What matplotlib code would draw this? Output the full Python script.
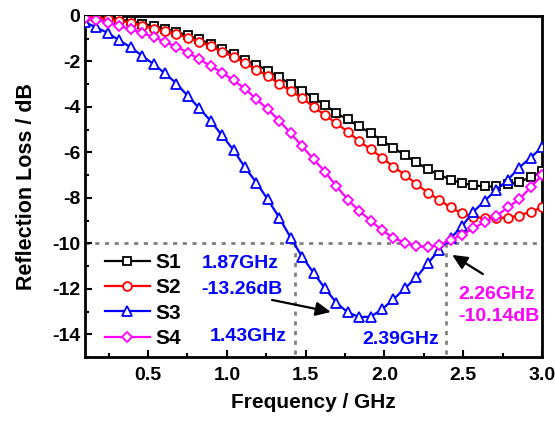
import numpy as np
import matplotlib
matplotlib.use("Agg")
import matplotlib.pyplot as plt
from matplotlib.ticker import MultipleLocator

plt.rcParams['font.family'] = ['Liberation Sans', 'DejaVu Sans']
plt.rcParams['font.weight'] = 'bold'
plt.rcParams['axes.unicode_minus'] = False

freq = np.linspace(0.1, 3.0, 41)
s1 = [-0.02, -0.05, -0.09, -0.15, -0.23, -0.33, -0.44, -0.56, -0.70, -0.85,
      -1.03, -1.22, -1.45, -1.68, -1.94, -2.14, -2.40, -2.70, -3.00, -3.28,
      -3.60, -3.90, -4.28, -4.55, -4.86, -5.15, -5.48, -5.80, -6.12, -6.43,
      -6.74, -6.98, -7.20, -7.35, -7.45, -7.50, -7.50, -7.40, -7.29, -7.10, -6.84]
s2 = [-0.03, -0.08, -0.14, -0.21, -0.30, -0.43, -0.56, -0.68, -0.81, -0.95,
      -1.13, -1.33, -1.57, -1.79, -2.06, -2.36, -2.64, -2.98, -3.30, -3.61,
      -3.99, -4.36, -4.72, -5.09, -5.50, -5.87, -6.23, -6.63, -6.99, -7.39,
      -7.77, -8.09, -8.42, -8.68, -8.83, -8.90, -8.88, -8.87, -8.78, -8.61, -8.42]
s3 = [-0.28, -0.50, -0.75, -1.07, -1.38, -1.75, -2.12, -2.52, -2.97, -3.52,
      -4.05, -4.62, -5.25, -5.90, -6.66, -7.33, -8.07, -8.87, -9.75, -10.59,
      -11.29, -11.98, -12.61, -13.04, -13.24, -13.23, -12.90, -12.46, -11.98, -11.50,
      -10.88, -10.29, -9.78, -9.24, -8.61, -8.12, -7.65, -7.21, -6.67, -6.23, -5.78]
s4 = [-0.08, -0.16, -0.29, -0.45, -0.57, -0.76, -0.91, -1.15, -1.35, -1.61,
      -1.90, -2.20, -2.49, -2.83, -3.20, -3.66, -4.10, -4.60, -5.16, -5.73,
      -6.30, -6.85, -7.48, -8.08, -8.57, -9.00, -9.43, -9.76, -9.97, -10.13,
      -10.16, -10.08, -9.84, -9.63, -9.34, -9.05, -8.80, -8.42, -8.07, -7.54, -7.00]

labels = ['S1', 'S2', 'S3', 'S4']
colors = ['black', 'red', 'blue', 'magenta']
markers = ['s', 'o', '^', 'D']
msizes = [5.8, 6.3, 7.0, 5.6]

threshold = -10
f_low, f_high = 1.43, 2.39

fig = plt.figure(figsize=(5.55, 4.23), dpi=100)
ax = fig.add_axes([85/555, 1-357/423, 457/555, 341/423])

dash = (0, (1.5, 2))
ax.axhline(threshold, color='gray', lw=2, ls=dash, zorder=1)
ax.plot([f_low, f_low], [threshold, -15], color='gray', lw=2, ls=dash, zorder=1)
ax.plot([f_high, f_high], [threshold, -15], color='gray', lw=2, ls=dash, zorder=1)

for y, lab, c, m, ms in zip([s1, s2, s3, s4], labels, colors, markers, msizes):
    ax.plot(freq, y, color=c, lw=1.6, marker=m, ms=ms, mfc='white', mec=c,
            mew=1.3, label=lab, zorder=3)

ax.set_xlim(0.1, 3.0)
ax.set_ylim(-15, 0)
ax.xaxis.set_minor_locator(MultipleLocator(0.25))
ax.yaxis.set_major_locator(MultipleLocator(2))
ax.yaxis.set_minor_locator(MultipleLocator(1))
ax.set_xticks([0.5, 1.0, 1.5, 2.0, 2.5, 3.0])
ax.set_xticklabels(['0.5', '1.0', '1.5', '2.0', '2.5', '3.0'])
ax.tick_params(which='both', direction='in', width=1.5, labelsize=14)
ax.tick_params(axis='x', pad=7)
ax.tick_params(which='major', length=5)
ax.tick_params(which='minor', length=3)
for sp in ax.spines.values():
    sp.set_linewidth(2)

ax.set_xlabel('Frequency / GHz', fontsize=15, fontweight='bold', labelpad=7)
ax.set_ylabel('Reflection Loss / dB', fontsize=15.5, fontweight='bold', labelpad=11)

leg = ax.legend(loc='upper left', bbox_to_anchor=(0.02, 0.335), frameon=False,
                fontsize=15, handlelength=2.2, handletextpad=0.25,
                labelspacing=0.3, borderpad=0)

tkw = dict(fontsize=14, fontweight='bold', va='center')
ax.text(0.84, -10.87, '1.87GHz', color='blue', ha='left', **tkw)
ax.text(0.84, -12.01, '-13.26dB', color='blue', ha='left', **tkw)
ax.text(1.38, -14.12, '1.43GHz', color='blue', ha='right', **tkw)
ax.text(2.35, -14.21, '2.39GHz', color='blue', ha='right', **tkw)
ax.text(2.467, -12.23, '2.26GHz', color='magenta', ha='left', **tkw)
ax.text(2.467, -13.24, '-10.14dB', color='magenta', ha='left', **tkw)

astyle = '-|>,head_length=0.6,head_width=0.28'
ax.annotate('', xy=(1.66, -13.02), xytext=(1.287, -12.49),
            arrowprops=dict(arrowstyle=astyle, color='black', lw=1.6, mutation_scale=15,
                            shrinkA=0, shrinkB=0))
ax.annotate('', xy=(2.43, -10.51), xytext=(2.625, -11.35),
            arrowprops=dict(arrowstyle=astyle, color='black', lw=1.6, mutation_scale=15,
                            shrinkA=0, shrinkB=0))

fig.savefig('out.png', dpi=100)
